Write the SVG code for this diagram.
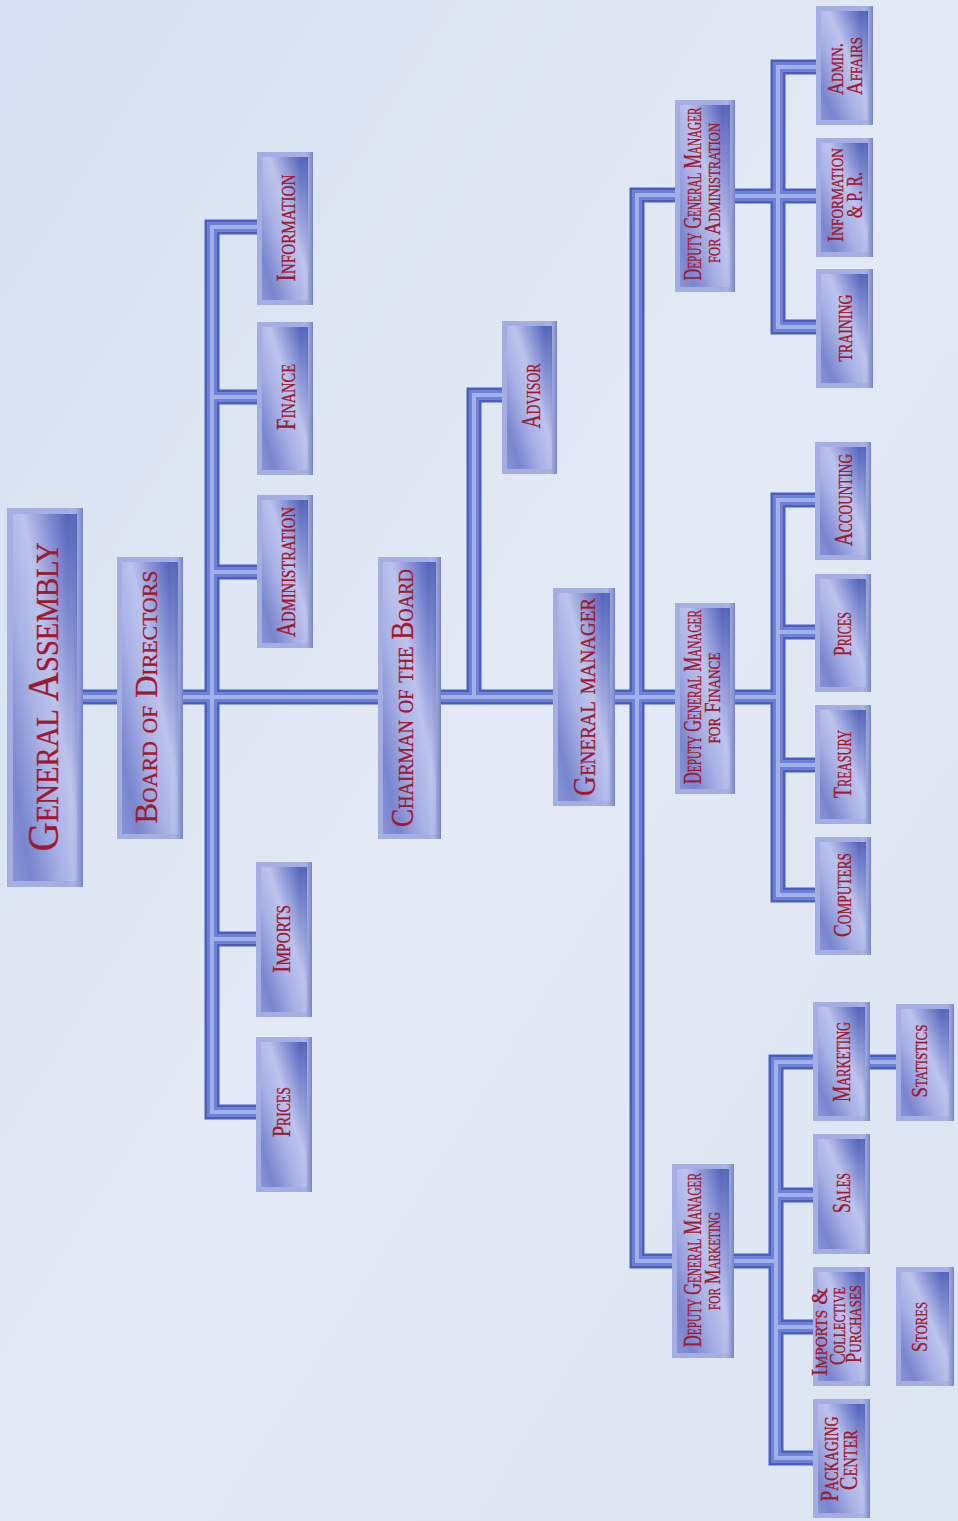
<svg xmlns="http://www.w3.org/2000/svg" xmlns:xlink="http://www.w3.org/1999/xlink" width="958" height="1521" viewBox="0 0 958 1521">
<defs>
<linearGradient id="bg" x1="0" y1="0" x2="1" y2="1">
<stop offset="0" stop-color="#d6e0f0"/>
<stop offset="0.5" stop-color="#e3eaf5"/>
<stop offset="1" stop-color="#dce5f2"/>
</linearGradient>
<linearGradient id="panel" x1="1" y1="0" x2="0" y2="1">
<stop offset="0" stop-color="#3f50ad"/>
<stop offset="0.18" stop-color="#7380cb"/>
<stop offset="0.42" stop-color="#bcc3ed"/>
<stop offset="0.6" stop-color="#aab3e6"/>
<stop offset="0.85" stop-color="#7985ce"/>
<stop offset="1" stop-color="#8893d6"/>
</linearGradient>
<linearGradient id="edge" x1="0" y1="0" x2="1" y2="0">
<stop offset="0" stop-color="#ffffff" stop-opacity="0"/>
<stop offset="0.8" stop-color="#ffffff" stop-opacity="0"/>
<stop offset="1" stop-color="#3a4aa8" stop-opacity="0.45"/>
</linearGradient>
<path id="conn" fill="none" stroke-linecap="square" d="M83 697 H778 M212 227 V1112 M212 227 H257 M212 397 H257 M212 572 H257 M212 939 H256 M212 1112 H256 M474 395 V697 M474 395 H502 M637 195 V1261 M637 195 H675 M637 1261 H672 M778 67 V327 M735 196 H816 M778 67 H816 M778 327 H816 M778 500 V895 M778 500 H815 M778 632 H815 M778 765 H815 M778 895 H815 M776 1062 V1458 M776 1062 H813 M776 1195 H813 M734 1261 H776 M776 1327 H813 M776 1458 H813 M870 1062 H896"/>
</defs>
<style>
.bf{fill:#a4aee2}
.bi{fill:url(#panel)}
.be{fill:url(#edge)}
.t{font-family:"Liberation Serif","Times New Roman",serif;font-variant:small-caps;fill:#a0182d;stroke:#a0182d;stroke-width:0.35;text-anchor:middle}
.u{font-family:"Liberation Serif","Times New Roman",serif;fill:#a0182d;stroke:#a0182d;stroke-width:0.35;text-anchor:middle}
</style>
<rect width="958" height="1521" fill="url(#bg)"/>

<g id="connectors">
<use href="#conn" stroke="#4a5fc0" stroke-width="15"/>
<use href="#conn" stroke="#6d82d4" stroke-width="10"/>
<use href="#conn" stroke="#a2b1ea" stroke-width="4"/>
</g>

<g id="general-assembly">
<rect class="bf" x="7" y="508" width="76" height="379"/>
<rect class="bi" x="13" y="514" width="64" height="367"/>
<rect class="be" x="7" y="508" width="76" height="379"/>
<text class="t" font-size="45" textLength="309" lengthAdjust="spacingAndGlyphs" transform="translate(58,697) rotate(-90)">General Assembly</text>
</g>

<g id="board-of-directors">
<rect class="bf" x="117" y="557" width="66" height="282"/>
<rect class="bi" x="122" y="562" width="56" height="272"/>
<rect class="be" x="117" y="557" width="66" height="282"/>
<text class="t" font-size="31" textLength="253" lengthAdjust="spacingAndGlyphs" transform="translate(157,697) rotate(-90)">Board of Directors</text>
</g>

<g id="chairman">
<rect class="bf" x="378" y="557" width="63" height="282"/>
<rect class="bi" x="383" y="562" width="53" height="272"/>
<rect class="be" x="378" y="557" width="63" height="282"/>
<text class="t" font-size="32" textLength="258" lengthAdjust="spacingAndGlyphs" transform="translate(413,698) rotate(-90)">Chairman of the Board</text>
</g>

<g id="general-manager">
<rect class="bf" x="553" y="588" width="62" height="218"/>
<rect class="bi" x="558" y="593" width="52" height="208"/>
<rect class="be" x="553" y="588" width="62" height="218"/>
<text class="t" font-size="32" textLength="198" lengthAdjust="spacingAndGlyphs" transform="translate(595,697) rotate(-90)">General manager</text>
</g>

<g id="advisor">
<rect class="bf" x="502" y="321" width="55" height="153"/>
<rect class="bi" x="507" y="326" width="45" height="143"/>
<rect class="be" x="502" y="321" width="55" height="153"/>
<text class="t" font-size="27" textLength="65" lengthAdjust="spacingAndGlyphs" transform="translate(540,396) rotate(-90)">Advisor</text>
</g>

<g id="information">
<rect class="bf" x="257" y="152" width="56" height="153"/>
<rect class="bi" x="262" y="157" width="46" height="143"/>
<rect class="be" x="257" y="152" width="56" height="153"/>
<text class="t" font-size="27" textLength="107" lengthAdjust="spacingAndGlyphs" transform="translate(295,228) rotate(-90)">Information</text>
</g>

<g id="finance">
<rect class="bf" x="257" y="322" width="56" height="153"/>
<rect class="bi" x="262" y="327" width="46" height="143"/>
<rect class="be" x="257" y="322" width="56" height="153"/>
<text class="t" font-size="27" textLength="66" lengthAdjust="spacingAndGlyphs" transform="translate(295,397) rotate(-90)">Finance</text>
</g>

<g id="administration">
<rect class="bf" x="257" y="495" width="56" height="153"/>
<rect class="bi" x="262" y="500" width="46" height="143"/>
<rect class="be" x="257" y="495" width="56" height="153"/>
<text class="t" font-size="27" textLength="130" lengthAdjust="spacingAndGlyphs" transform="translate(295,572) rotate(-90)">Administration</text>
</g>

<g id="imports">
<rect class="bf" x="256" y="862" width="56" height="155"/>
<rect class="bi" x="261" y="867" width="46" height="145"/>
<rect class="be" x="256" y="862" width="56" height="155"/>
<text class="t" font-size="26" textLength="68" lengthAdjust="spacingAndGlyphs" transform="translate(290,939) rotate(-90)">Imports</text>
</g>

<g id="prices-board">
<rect class="bf" x="256" y="1037" width="56" height="155"/>
<rect class="bi" x="261" y="1042" width="46" height="145"/>
<rect class="be" x="256" y="1037" width="56" height="155"/>
<text class="t" font-size="26" textLength="50" lengthAdjust="spacingAndGlyphs" transform="translate(290,1112) rotate(-90)">Prices</text>
</g>

<g id="dgm-administration">
<rect class="bf" x="675" y="100" width="60" height="192"/>
<rect class="bi" x="680" y="105" width="50" height="182"/>
<rect class="be" x="675" y="100" width="60" height="192"/>
<text class="t" font-size="26" textLength="173" lengthAdjust="spacingAndGlyphs" transform="translate(701,194) rotate(-90)">Deputy General Manager</text>
<text class="t" font-size="23" textLength="140" lengthAdjust="spacingAndGlyphs" transform="translate(720,193) rotate(-90)">for Administration</text>
</g>

<g id="dgm-finance">
<rect class="bf" x="675" y="603" width="60" height="191"/>
<rect class="bi" x="680" y="608" width="50" height="181"/>
<rect class="be" x="675" y="603" width="60" height="191"/>
<text class="t" font-size="26" textLength="174" lengthAdjust="spacingAndGlyphs" transform="translate(701,697) rotate(-90)">Deputy General Manager</text>
<text class="t" font-size="23" textLength="91" lengthAdjust="spacingAndGlyphs" transform="translate(720,698) rotate(-90)">for Finance</text>
</g>

<g id="dgm-marketing">
<rect class="bf" x="672" y="1164" width="62" height="194"/>
<rect class="bi" x="677" y="1169" width="52" height="184"/>
<rect class="be" x="672" y="1164" width="62" height="194"/>
<text class="t" font-size="26" textLength="174" lengthAdjust="spacingAndGlyphs" transform="translate(701,1260) rotate(-90)">Deputy General Manager</text>
<text class="t" font-size="23" textLength="98" lengthAdjust="spacingAndGlyphs" transform="translate(720,1261) rotate(-90)">for Marketing</text>
</g>

<g id="admin-affairs">
<rect class="bf" x="816" y="6" width="57" height="119"/>
<rect class="bi" x="821" y="11" width="47" height="109"/>
<rect class="be" x="816" y="6" width="57" height="119"/>
<text class="t" font-size="24" textLength="52" lengthAdjust="spacingAndGlyphs" transform="translate(843,69) rotate(-90)">Admin.</text>
<text class="t" font-size="24" textLength="58" lengthAdjust="spacingAndGlyphs" transform="translate(862,66) rotate(-90)">Affairs</text>
</g>

<g id="information-pr">
<rect class="bf" x="816" y="138" width="57" height="119"/>
<rect class="bi" x="821" y="143" width="47" height="109"/>
<rect class="be" x="816" y="138" width="57" height="119"/>
<text class="t" font-size="24" textLength="94" lengthAdjust="spacingAndGlyphs" transform="translate(843,195) rotate(-90)">Information</text>
<text class="t" font-size="24" textLength="46" lengthAdjust="spacingAndGlyphs" transform="translate(862,195) rotate(-90)">&amp; P. R.</text>
</g>

<g id="training">
<rect class="bf" x="816" y="269" width="57" height="119"/>
<rect class="bi" x="821" y="274" width="47" height="109"/>
<rect class="be" x="816" y="269" width="57" height="119"/>
<text class="u" font-size="19" textLength="67" lengthAdjust="spacingAndGlyphs" transform="translate(852,328) rotate(-90)">TRAINING</text>
</g>

<g id="accounting">
<rect class="bf" x="815" y="442" width="56" height="118"/>
<rect class="bi" x="820" y="447" width="46" height="108"/>
<rect class="be" x="815" y="442" width="56" height="118"/>
<text class="t" font-size="26" textLength="92" lengthAdjust="spacingAndGlyphs" transform="translate(852,500) rotate(-90)">Accounting</text>
</g>

<g id="prices-finance">
<rect class="bf" x="815" y="574" width="56" height="118"/>
<rect class="bi" x="820" y="579" width="46" height="108"/>
<rect class="be" x="815" y="574" width="56" height="118"/>
<text class="t" font-size="26" textLength="44" lengthAdjust="spacingAndGlyphs" transform="translate(851,634) rotate(-90)">Prices</text>
</g>

<g id="treasury">
<rect class="bf" x="815" y="705" width="56" height="119"/>
<rect class="bi" x="820" y="710" width="46" height="109"/>
<rect class="be" x="815" y="705" width="56" height="119"/>
<text class="t" font-size="26" textLength="68" lengthAdjust="spacingAndGlyphs" transform="translate(851,764) rotate(-90)">Treasury</text>
</g>

<g id="computers">
<rect class="bf" x="815" y="837" width="56" height="118"/>
<rect class="bi" x="820" y="842" width="46" height="108"/>
<rect class="be" x="815" y="837" width="56" height="118"/>
<text class="t" font-size="26" textLength="84" lengthAdjust="spacingAndGlyphs" transform="translate(851,895) rotate(-90)">Computers</text>
</g>

<g id="marketing">
<rect class="bf" x="813" y="1002" width="57" height="119"/>
<rect class="bi" x="818" y="1007" width="47" height="109"/>
<rect class="be" x="813" y="1002" width="57" height="119"/>
<text class="t" font-size="26" textLength="80" lengthAdjust="spacingAndGlyphs" transform="translate(850,1062) rotate(-90)">Marketing</text>
</g>

<g id="sales">
<rect class="bf" x="813" y="1134" width="57" height="120"/>
<rect class="bi" x="818" y="1139" width="47" height="110"/>
<rect class="be" x="813" y="1134" width="57" height="120"/>
<text class="t" font-size="26" textLength="40" lengthAdjust="spacingAndGlyphs" transform="translate(850,1193) rotate(-90)">Sales</text>
</g>

<g id="imports-collective-purchases">
<rect class="bf" x="813" y="1267" width="57" height="119"/>
<rect class="bi" x="818" y="1272" width="47" height="109"/>
<rect class="be" x="813" y="1267" width="57" height="119"/>
<text class="t" font-size="23" textLength="88" lengthAdjust="spacingAndGlyphs" transform="translate(827,1332) rotate(-90)">Imports &amp;</text>
<text class="t" font-size="23" textLength="78" lengthAdjust="spacingAndGlyphs" transform="translate(845,1326) rotate(-90)">Collective</text>
<text class="t" font-size="23" textLength="78" lengthAdjust="spacingAndGlyphs" transform="translate(861,1324) rotate(-90)">Purchases</text>
</g>

<g id="packaging-center">
<rect class="bf" x="813" y="1399" width="57" height="119"/>
<rect class="bi" x="818" y="1404" width="47" height="109"/>
<rect class="be" x="813" y="1399" width="57" height="119"/>
<text class="t" font-size="25" textLength="85" lengthAdjust="spacingAndGlyphs" transform="translate(838,1459) rotate(-90)">Packaging</text>
<text class="t" font-size="25" textLength="60" lengthAdjust="spacingAndGlyphs" transform="translate(857,1460) rotate(-90)">Center</text>
</g>

<g id="statistics">
<rect class="bf" x="896" y="1004" width="58" height="117"/>
<rect class="bi" x="901" y="1009" width="48" height="107"/>
<rect class="be" x="896" y="1004" width="58" height="117"/>
<text class="t" font-size="23" textLength="73" lengthAdjust="spacingAndGlyphs" transform="translate(927,1061) rotate(-90)">Statistics</text>
</g>

<g id="stores">
<rect class="bf" x="896" y="1267" width="58" height="119"/>
<rect class="bi" x="901" y="1272" width="48" height="109"/>
<rect class="be" x="896" y="1267" width="58" height="119"/>
<text class="t" font-size="23" textLength="50" lengthAdjust="spacingAndGlyphs" transform="translate(927,1327) rotate(-90)">Stores</text>
</g>
</svg>
